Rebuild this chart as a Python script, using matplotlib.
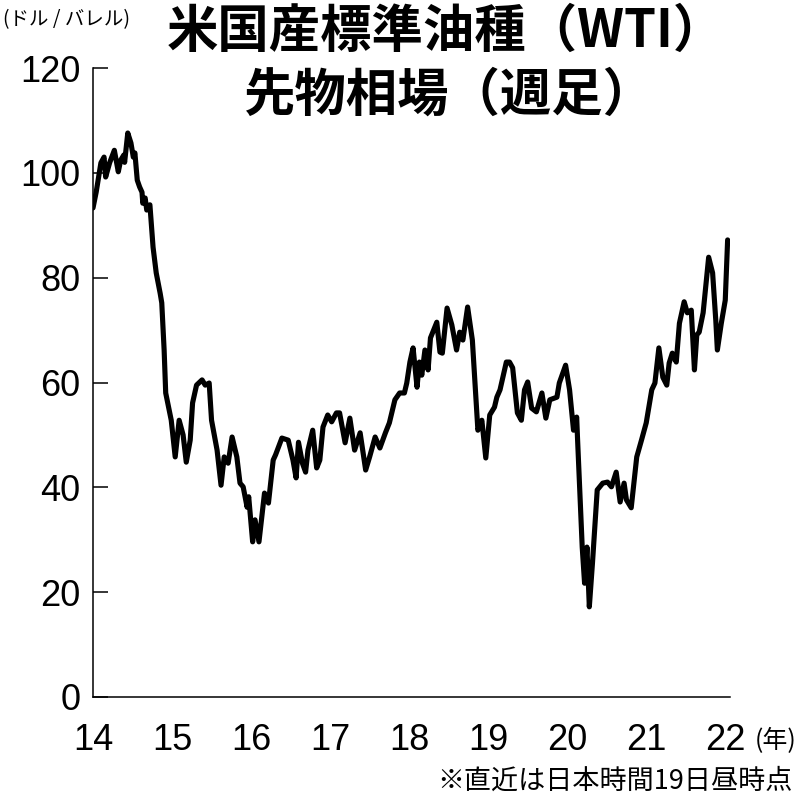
import matplotlib.pyplot as plt

# WTI weekly close (decimal year, $/bbl)
t = [2014.00, 2014.04, 2014.10, 2014.14, 2014.16, 2014.21, 2014.27, 2014.32, 2014.35, 2014.39,
     2014.40, 2014.44, 2014.48, 2014.51, 2014.53, 2014.56, 2014.59, 2014.62, 2014.63, 2014.66,
     2014.68, 2014.72, 2014.76, 2014.80, 2014.85, 2014.87, 2014.90, 2014.92, 2014.99,
     2015.04, 2015.09, 2015.14, 2015.18, 2015.23, 2015.26, 2015.31, 2015.38, 2015.42, 2015.47,
     2015.50, 2015.57, 2015.62, 2015.66, 2015.71, 2015.76, 2015.82, 2015.86, 2015.90, 2015.95, 2015.97,
     2016.02, 2016.05, 2016.10, 2016.17, 2016.22, 2016.28, 2016.31, 2016.39, 2016.47, 2016.53,
     2016.57, 2016.60, 2016.65, 2016.69, 2016.72, 2016.78, 2016.83, 2016.87, 2016.91, 2016.97,
     2017.02, 2017.08, 2017.12, 2017.19, 2017.25, 2017.31, 2017.38, 2017.45, 2017.50, 2017.57,
     2017.63, 2017.70, 2017.75, 2017.82, 2017.88, 2017.94, 2017.97,
     2018.01, 2018.05, 2018.10, 2018.13, 2018.16, 2018.20, 2018.24, 2018.27, 2018.35, 2018.39,
     2018.42, 2018.48, 2018.54, 2018.60, 2018.64, 2018.68, 2018.74, 2018.80, 2018.87, 2018.92, 2018.97,
     2019.02, 2019.08, 2019.11, 2019.15, 2019.23, 2019.27, 2019.31, 2019.37, 2019.42, 2019.46,
     2019.50, 2019.55, 2019.61, 2019.68, 2019.73, 2019.78, 2019.87, 2019.90, 2019.98,
     2020.03, 2020.08, 2020.12, 2020.13, 2020.19, 2020.22, 2020.25, 2020.28, 2020.32, 2020.38,
     2020.45, 2020.51, 2020.56, 2020.62, 2020.67, 2020.72, 2020.75, 2020.81, 2020.88, 2020.94,
     2021.00, 2021.07, 2021.11, 2021.16, 2021.21, 2021.26, 2021.29, 2021.33, 2021.38, 2021.42,
     2021.48, 2021.52, 2021.57, 2021.61, 2021.64, 2021.67, 2021.72, 2021.79, 2021.84, 2021.88,
     2021.90, 2021.95, 2022.00, 2022.03]
price = [93.3, 96.3, 101.9, 103.0, 99.2, 101.9, 104.3, 100.2, 102.4, 103.4,
         102.0, 107.6, 105.7, 103.0, 103.8, 98.6, 97.3, 96.3, 94.2, 95.2,
         92.9, 93.9, 85.8, 80.9, 77.0, 75.2, 66.2, 58.0, 52.8,
         45.8, 52.8, 50.0, 44.8, 49.0, 56.1, 59.5, 60.5, 59.5, 59.9,
         52.8, 47.1, 40.4, 45.8, 44.6, 49.6, 45.8, 40.8, 40.1, 36.2, 38.2,
         29.6, 33.8, 29.6, 38.9, 37.0, 45.2, 46.2, 49.4, 49.0, 45.2,
         41.8, 48.6, 44.6, 42.9, 47.1, 50.9, 43.7, 45.2, 51.5, 53.8,
         52.5, 54.2, 54.2, 48.5, 53.2, 47.1, 50.4, 43.3, 45.8, 49.6,
         47.5, 50.4, 52.3, 56.7, 58.0, 58.0, 59.9,
         63.9, 66.6, 59.1, 63.9, 61.4, 66.2, 62.4, 68.5, 71.5, 65.8,
         65.6, 74.2, 71.0, 66.2, 69.6, 68.1, 74.4, 68.1, 50.9, 52.8, 45.6,
         53.8, 55.3, 57.2, 58.6, 63.9, 63.9, 62.8, 54.2, 52.8, 58.6,
         60.1, 55.1, 54.4, 58.0, 53.2, 56.7, 57.2, 59.9, 63.3,
         58.6, 50.9, 53.4, 49.6, 28.6, 21.7, 28.6, 17.2, 25.6, 39.5,
         40.8, 41.0, 40.1, 42.9, 37.2, 40.8, 37.6, 36.1, 45.8, 49.0,
         52.3, 58.6, 59.9, 66.6, 61.0, 59.5, 63.7, 65.6, 63.9, 71.3,
         75.4, 73.3, 73.8, 62.4, 69.1, 69.6, 73.3, 83.9, 80.9, 71.9,
         66.2, 71.3, 75.7, 87.2]

years = [2014, 2015, 2016, 2017, 2018, 2019, 2020, 2021, 2022]
year_labels = ['14', '15', '16', '17', '18', '19', '20', '21', '22']
yticks = [0, 20, 40, 60, 80, 100, 120]

num_font = ['Liberation Sans', 'DejaVu Sans']
jp_font = ['Noto Sans CJK JP', 'DejaVu Sans']

fig = plt.figure(figsize=(8, 7.99), dpi=100)
ax = fig.add_axes([93 / 800, 102 / 799, 637 / 800, 629 / 799])

ax.plot(t, price, color='black', lw=3.7, solid_joinstyle='round', solid_capstyle='round')

ax.set_xlim(2014, 2022.06)
ax.set_ylim(0, 120)
ax.set_xticks(years)
ax.set_xticklabels(year_labels, family=num_font, fontsize=26)
ax.set_yticks(yticks)
ax.set_yticklabels([str(v) for v in yticks], family=num_font, fontsize=26)
ax.tick_params(axis='x', length=0, pad=19)
ax.tick_params(axis='y', direction='in', length=11, width=1.1, pad=9)

for s in ['top', 'right']:
    ax.spines[s].set_visible(False)
for s in ['left', 'bottom']:
    ax.spines[s].set_linewidth(1.1)

fig.text(446 / 800, 1 - 31 / 799, '米国産標準油種（WTI）', family=jp_font, fontsize=37,
         fontweight='bold', ha='center', va='center')
fig.text(449 / 800, 1 - 95 / 799, '先物相場（週足）', family=jp_font, fontsize=37,
         fontweight='bold', ha='center', va='center')
fig.text(3 / 800, 1 - 20 / 799, '(ドル / バレル)', family=jp_font, fontsize=14,
         ha='left', va='center')
fig.text(776 / 800, 1 - 741 / 799, '(年)', family=jp_font, fontsize=18,
         ha='center', va='center')
fig.text(793 / 800, 1 - 781 / 799, '※直近は日本時間19日昼時点', family=jp_font, fontsize=19.5,
         ha='right', va='center')

fig.savefig('out.png', dpi=100)
